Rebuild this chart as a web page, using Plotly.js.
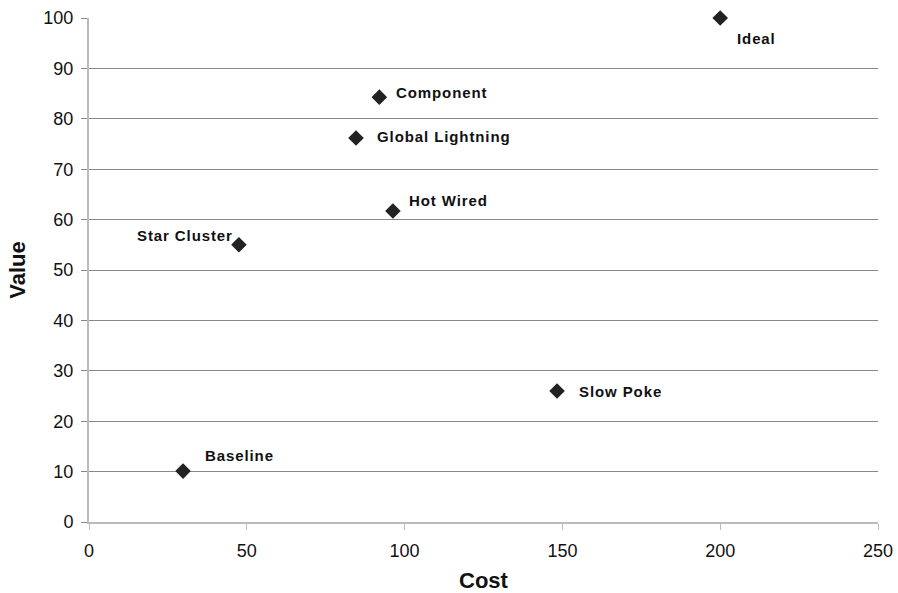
<!DOCTYPE html>
<html>
<head>
<meta charset="utf-8">
<script src="https://cdn.plot.ly/plotly-3.0.1.min.js"></script>
<style>
html,body{margin:0;padding:0;background:#fff;}
#chart{width:898px;height:593px;}
.annotation-text{letter-spacing:0.9px;}
</style>
</head>
<body>
<div id="chart"></div>
<script>
const names = ["Ideal", "Component", "Global Lightning", "Hot Wired", "Star Cluster", "Slow Poke", "Baseline"];
const cost = [200, 92, 84.6, 96.3, 47.5, 148.3, 29.8];
const value = [100, 84.3, 76.2, 61.7, 55.0, 26.0, 10.1];
const xTicks = [0, 50, 100, 150, 200, 250];
const yTicks = [0, 10, 20, 30, 40, 50, 60, 70, 80, 90, 100];

// label placement (styling, pixel offsets from marker)
const labelPlacement = {
  "Ideal": {dx: 15, dy: -20, anchor: "left"},
  "Component": {dx: 15, dy: 5, anchor: "left"},
  "Global Lightning": {dx: 19, dy: 1, anchor: "left"},
  "Hot Wired": {dx: 14, dy: 11, anchor: "left"},
  "Star Cluster": {dx: -4, dy: 9, anchor: "right"},
  "Slow Poke": {dx: 20, dy: -1, anchor: "left"},
  "Baseline": {dx: 20, dy: 16, anchor: "left"}
};

const annotations = names.map((n, i) => ({
  x: cost[i], y: value[i], xref: "x", yref: "y",
  text: n, showarrow: false,
  xanchor: labelPlacement[n].anchor, yanchor: "middle",
  xshift: labelPlacement[n].dx, yshift: labelPlacement[n].dy,
  font: {family: "Liberation Sans, Arial, sans-serif", size: 15, color: "#111", weight: "bold"}
}));

const trace = {
  x: cost, y: value, text: names, type: "scatter", mode: "markers",
  marker: {symbol: "diamond", size: 12, color: "#222", line: {width: 0}},
  hoverinfo: "text", cliponaxis: false
};

const layout = {
  width: 898, height: 593,
  margin: {l: 89, r: 20, t: 18, b: 71},
  paper_bgcolor: "#fff", plot_bgcolor: "#fff",
  showlegend: false,
  font: {family: "Liberation Sans, Arial, sans-serif", color: "#111"},
  xaxis: {
    range: [0, 250], tickvals: xTicks, ticktext: xTicks.map(String),
    showgrid: false, zeroline: false,
    showline: true, linecolor: "#bbb", linewidth: 2,
    ticks: "outside", ticklen: 6, tickcolor: "#bbb", tickwidth: 1,
    ticklabelstandoff: 5,
    tickfont: {size: 18, color: "#111"},
    title: {text: "Cost", font: {size: 22, weight: "bold", color: "#111"}, standoff: 14}
  },
  yaxis: {
    range: [0, 100], tickvals: yTicks, ticktext: yTicks.map(String),
    showgrid: true, gridcolor: "#888", gridwidth: 1,
    zeroline: false,
    showline: true, linecolor: "#bbb", linewidth: 2,
    ticks: "outside", ticklen: 6, tickcolor: "#888", tickwidth: 1,
    ticklabelstandoff: 4,
    tickfont: {size: 18, color: "#111"},
    title: {text: "Value", font: {size: 22, weight: "bold", color: "#111"}, standoff: 12}
  },
  annotations: annotations
};

Plotly.newPlot("chart", [trace], layout, {displayModeBar: false, staticPlot: true});
</script>
</body>
</html>
